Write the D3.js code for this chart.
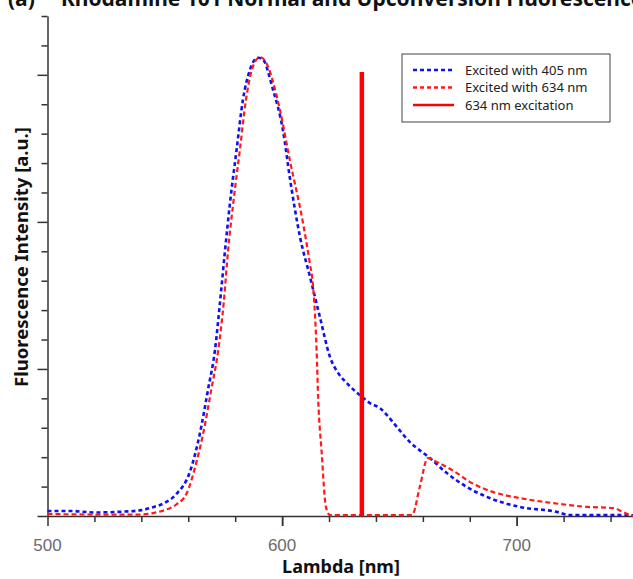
<!DOCTYPE html>
<html lang="en">
  <head>
    <meta charset="utf-8">
    <title>Rhodamine 101 Fluorescence</title>
    <script src="https://d3js.org/d3.v7.min.js"></script>
    <style>
      html, body {
        margin: 0;
        padding: 0;
        background: #fff;
      }
      svg {
        display: block;
        font-family: "Noto Sans", "Open Sans", sans-serif;
      }
      .axis path, .axis line {
        stroke: #333;
        stroke-width: 1.5;
      }
    </style>
  </head>
  <body>
    <svg width="633" height="579"></svg>

    <script>
      // excited with 405 nm
      var lambda405 = [500, 510, 520, 530, 540, 545, 550, 555, 560.7, 565, 568.4, 571.4, 573.5, 575.7, 577.8, 580.6, 583.3, 586.3, 589.7, 591.5, 596.1, 600.4, 603.3, 607.6, 611.9, 616.1, 620.4, 624, 627.6, 634, 637.4, 641.7, 644.6, 648.9, 654.4, 663, 670.2, 678.7, 688.5, 701.3, 717.1, 722.6, 742.6, 750];
      var intensity405 = [0.17, 0.17, 0.12, 0.14, 0.2, 0.3, 0.45, 0.75, 1.5, 2.82, 4.29, 5.65, 7.24, 9.05, 10.65, 12.45, 14.15, 15.17, 15.58, 15.55, 14.5, 13.1, 11.5, 9.5, 8.13, 6.77, 5.41, 4.85, 4.52, 4.05, 3.84, 3.67, 3.44, 3.03, 2.52, 1.97, 1.46, 0.99, 0.61, 0.31, 0.14, 0.03, 0.03, 0.02];

      // excited with 634 nm
      var lambda634 = [500, 520, 540, 545, 550, 555, 559.4, 563.7, 566.4, 569.8, 572.8, 575.1, 577, 579.2, 582, 584.6, 587.1, 590.5, 592.5, 599.1, 603.3, 608.9, 611.8, 613.1, 614.7, 615.4, 616.8, 618.7, 620.4, 640, 655.4, 658.7, 662.1, 665.9, 674.5, 680, 689.8, 701.3, 715.4, 729.9, 741, 745.3, 748.3, 750];
      var intensity634 = [0.07, 0.05, 0.05, 0.1, 0.2, 0.4, 0.78, 1.9, 2.82, 4.29, 5.65, 7.24, 9.05, 10.65, 12.45, 14.15, 15.17, 15.6, 15.5, 13.8, 12.1, 9.97, 8.6, 7.9, 5.65, 3.95, 2.24, 0.3, 0.03, 0.03, 0.03, 0.99, 1.97, 1.84, 1.46, 1.16, 0.82, 0.61, 0.44, 0.31, 0.27, 0.14, 0.03, 0.0];

      var excitationLambda = 634;
      var excitationTop = 15.1;

      var legendLabels = ['Excited with 405 nm', 'Excited with 634 nm', '634 nm excitation'];
      var xTickLabels = [500, 600, 700];

      var svg = d3.select('svg');

      var x = d3.scaleLinear().domain([500, 750]).range([47.5, 634]);
      var y = d3.scaleLinear().domain([0, 17]).range([516, 16]);

      // title (cut off at top like the original)
      svg.append('text')
        .attr('x', 8)
        .attr('y', 6)
        .attr('font-size', 21)
        .attr('font-weight', 'bold')
        .attr('fill', '#111')
        .text('(a)');
      svg.append('text')
        .attr('x', 61)
        .attr('y', 6)
        .attr('font-size', 21)
        .attr('font-weight', 'bold')
        .attr('fill', '#111')
        .text('Rhodamine 101 Normal and Upconversion Fluorescence');

      // x axis: minor every 20, long ticks at the hundreds
      var xAxis = svg.append('g')
        .attr('class', 'axis')
        .attr('transform', 'translate(0,' + y(0) + ')')
        .call(d3.axisBottom(x)
          .tickValues(d3.range(500, 751, 20).concat([600, 700]))
          .tickSizeOuter(0)
          .tickFormat(''));
      xAxis.selectAll('.tick line')
        .attr('y2', function(d) { return d % 100 === 0 ? 10 : 6; });
      xAxis.selectAll('.tick').filter(function(d) { return d > 740; }).remove();

      xAxis.selectAll('.lbl')
        .data(xTickLabels)
        .enter().append('text')
          .attr('class', 'lbl')
          .attr('x', function(d) { return x(d); })
          .attr('y', 35)
          .attr('text-anchor', 'middle')
          .attr('fill', '#6b6b6b')
          .attr('font-size', 17)
          .text(function(d) { return d; });

      // y axis: no labels, minor every unit, long every 5
      var yAxis = svg.append('g')
        .attr('class', 'axis')
        .attr('transform', 'translate(' + x(500) + ',0)')
        .call(d3.axisLeft(y)
          .tickValues(d3.range(0, 18, 1))
          .tickSizeOuter(0)
          .tickFormat(''));
      yAxis.selectAll('.tick line')
        .attr('x2', function(d) { return d % 5 === 0 ? -10 : -6; });

      svg.append('text')
        .attr('transform', 'translate(28,257) rotate(-90)')
        .attr('text-anchor', 'middle')
        .attr('font-size', 18.5)
        .attr('font-weight', 'bold')
        .attr('fill', '#111')
        .text('Fluorescence Intensity [a.u.]');

      svg.append('text')
        .attr('x', 341)
        .attr('y', 573)
        .attr('text-anchor', 'middle')
        .attr('font-size', 18)
        .attr('font-weight', 'bold')
        .attr('fill', '#111')
        .text('Lambda [nm]');

      var line = d3.line()
        .x(function(d) { return x(d[0]); })
        .y(function(d) { return y(d[1]); })
        .curve(d3.curveMonotoneX);

      var series405 = d3.zip(lambda405, intensity405);
      var series634 = d3.zip(lambda634, intensity634);

      svg.append('path')
        .datum(series405)
        .attr('d', line)
        .attr('fill', 'none')
        .attr('stroke', '#1010f0')
        .attr('stroke-width', 2.6)
        .attr('stroke-dasharray', '4,3');

      svg.append('path')
        .datum(series634)
        .attr('d', line)
        .attr('fill', 'none')
        .attr('stroke', '#ff1a1a')
        .attr('stroke-width', 2.2)
        .attr('stroke-dasharray', '5,3');

      svg.append('line')
        .attr('x1', x(excitationLambda))
        .attr('x2', x(excitationLambda))
        .attr('y1', y(excitationTop))
        .attr('y2', y(0))
        .attr('stroke', '#ff0000')
        .attr('stroke-width', 4.5);

      // legend
      var legend = svg.append('g').attr('transform', 'translate(402,54)');
      legend.append('rect')
        .attr('width', 208)
        .attr('height', 68)
        .attr('fill', '#fff')
        .attr('stroke', '#444')
        .attr('stroke-width', 1);

      var legendStyles = [
        {color: '#1010f0', dash: '4,3', width: 2.4},
        {color: '#ff1a1a', dash: '4,3', width: 2.4},
        {color: '#ff0000', dash: null, width: 2.4}
      ];

      var legendRow = legend.selectAll('.row')
        .data(legendLabels)
        .enter().append('g')
          .attr('class', 'row')
          .attr('transform', function(d, i) { return 'translate(0,' + (16 + i * 17.5) + ')'; });

      legendRow.append('line')
        .attr('x1', 11)
        .attr('x2', 52)
        .attr('stroke', function(d, i) { return legendStyles[i].color; })
        .attr('stroke-width', function(d, i) { return legendStyles[i].width; })
        .attr('stroke-dasharray', function(d, i) { return legendStyles[i].dash; });

      legendRow.append('text')
        .attr('x', 63)
        .attr('y', 4.5)
        .attr('font-size', 13)
        .attr('fill', '#222')
        .text(function(d) { return d; });
    </script>
  </body>
</html>
